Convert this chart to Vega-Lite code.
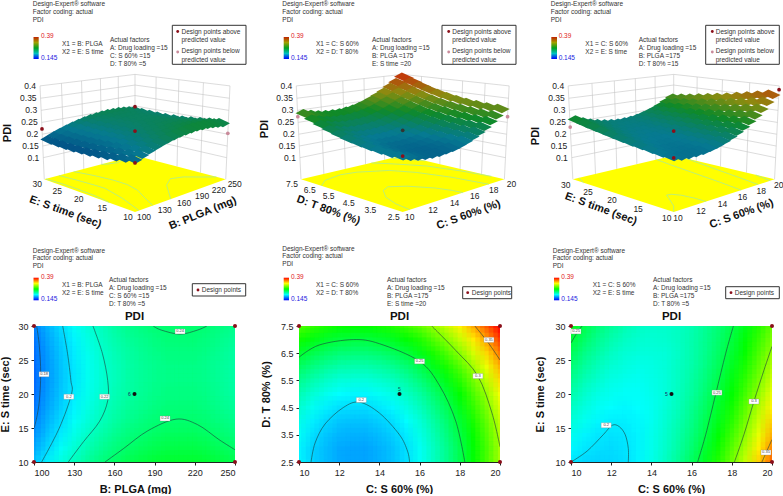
{"$schema":"https://vega.github.io/schema/vega-lite/v6.json","padding":{"left":-2,"top":0,"right":0,"bottom":0},"background":"white","resolve":{"scale":{"color":"independent"}},"config":{"font":"Liberation Sans","view":{"stroke":null},"axis":{"grid":false,"domainColor":"#222","tickColor":"#222","tickSize":3,"labelFontSize":9,"labelColor":"#222","labelPadding":3,"titleFontSize":11,"titleFontWeight":"bold","titleColor":"#111","titleBaseline":"middle"}},
"datasets":{
"g1":[{"k":"w","u":0,"v":1,"h":0,"U":0,"V":1,"H":1},{"k":"w","u":0.2,"v":1,"h":0,"U":0.2,"V":1,"H":1},{"k":"w","u":0.4,"v":1,"h":0,"U":0.4,"V":1,"H":1},{"k":"w","u":0.6,"v":1,"h":0,"U":0.6,"V":1,"H":1},{"k":"w","u":0.8,"v":1,"h":0,"U":0.8,"V":1,"H":1},{"k":"w","u":1,"v":1,"h":0,"U":1,"V":1,"H":1},{"k":"w","u":1,"v":0,"h":0,"U":1,"V":0,"H":1},{"k":"w","u":1,"v":0.25,"h":0,"U":1,"V":0.25,"H":1},{"k":"w","u":1,"v":0.5,"h":0,"U":1,"V":0.5,"H":1},{"k":"w","u":1,"v":0.75,"h":0,"U":1,"V":0.75,"H":1},
{"k":"w","u":0,"v":1,"h":0.24,"U":1,"V":1,"H":0.24},{"k":"w","u":0,"v":1,"h":0.367,"U":1,"V":1,"H":0.367},{"k":"w","u":0,"v":1,"h":0.494,"U":1,"V":1,"H":0.494},{"k":"w","u":0,"v":1,"h":0.62,"U":1,"V":1,"H":0.62},{"k":"w","u":0,"v":1,"h":0.747,"U":1,"V":1,"H":0.747},{"k":"w","u":0,"v":1,"h":0.873,"U":1,"V":1,"H":0.873},{"k":"w","u":0,"v":1,"h":1,"U":1,"V":1,"H":1},
{"k":"w","u":1,"v":0,"h":0.24,"U":1,"V":1,"H":0.24},{"k":"w","u":1,"v":0,"h":0.367,"U":1,"V":1,"H":0.367},{"k":"w","u":1,"v":0,"h":0.494,"U":1,"V":1,"H":0.494},{"k":"w","u":1,"v":0,"h":0.62,"U":1,"V":1,"H":0.62},{"k":"w","u":1,"v":0,"h":0.747,"U":1,"V":1,"H":0.747},{"k":"w","u":1,"v":0,"h":0.873,"U":1,"V":1,"H":0.873},{"k":"w","u":1,"v":0,"h":1,"U":1,"V":1,"H":1},
{"k":"f","u":0,"v":1,"h":0,"U":0,"V":1,"H":0},{"k":"f","u":1,"v":1,"h":0,"U":0,"V":0,"H":0},{"k":"f","u":1,"v":0,"h":0,"U":1,"V":0,"H":0},
{"k":"z","t":"0.4","u":0,"v":1,"h":1},{"k":"z","t":"0.35","u":0,"v":1,"h":0.873},{"k":"z","t":"0.3","u":0,"v":1,"h":0.747},{"k":"z","t":"0.25","u":0,"v":1,"h":0.62},{"k":"z","t":"0.2","u":0,"v":1,"h":0.494},{"k":"z","t":"0.15","u":0,"v":1,"h":0.367},{"k":"z","t":"0.1","u":0,"v":1,"h":0.24},
{"k":"r","t":"100","u":0,"v":0,"h":0},{"k":"r","t":"130","u":0.2,"v":0,"h":0},{"k":"r","t":"160","u":0.4,"v":0,"h":0},{"k":"r","t":"190","u":0.6,"v":0,"h":0},{"k":"r","t":"220","u":0.8,"v":0,"h":0},{"k":"r","t":"250","u":1,"v":0,"h":0},
{"k":"l","t":"10","u":0,"v":0,"h":0},{"k":"l","t":"15","u":0,"v":0.25,"h":0},{"k":"l","t":"20","u":0,"v":0.5,"h":0},{"k":"l","t":"25","u":0,"v":0.75,"h":0},{"k":"l","t":"30","u":0,"v":1,"h":0},
{"k":"L","t":"E: S time (sec)","u":0,"v":0.5,"h":0},{"k":"R","t":"B: PLGA (mg)","u":0.5,"v":0,"h":0},
{"k":"a","u":1,"v":1,"h":0.611},{"k":"a","u":0,"v":1,"h":0.55},{"k":"a","u":0.5,"v":0.5,"h":0.528},{"k":"a","u":0,"v":0,"h":0.459},{"k":"b","u":1,"v":0,"h":0.504}],
"g2":[{"k":"w","u":0,"v":1,"h":0,"U":0,"V":1,"H":1},{"k":"w","u":0.2,"v":1,"h":0,"U":0.2,"V":1,"H":1},{"k":"w","u":0.4,"v":1,"h":0,"U":0.4,"V":1,"H":1},{"k":"w","u":0.6,"v":1,"h":0,"U":0.6,"V":1,"H":1},{"k":"w","u":0.8,"v":1,"h":0,"U":0.8,"V":1,"H":1},{"k":"w","u":1,"v":1,"h":0,"U":1,"V":1,"H":1},{"k":"w","u":1,"v":0,"h":0,"U":1,"V":0,"H":1},{"k":"w","u":1,"v":0.2,"h":0,"U":1,"V":0.2,"H":1},{"k":"w","u":1,"v":0.4,"h":0,"U":1,"V":0.4,"H":1},{"k":"w","u":1,"v":0.6,"h":0,"U":1,"V":0.6,"H":1},{"k":"w","u":1,"v":0.8,"h":0,"U":1,"V":0.8,"H":1},
{"k":"w","u":0,"v":1,"h":0.24,"U":1,"V":1,"H":0.24},{"k":"w","u":0,"v":1,"h":0.367,"U":1,"V":1,"H":0.367},{"k":"w","u":0,"v":1,"h":0.494,"U":1,"V":1,"H":0.494},{"k":"w","u":0,"v":1,"h":0.62,"U":1,"V":1,"H":0.62},{"k":"w","u":0,"v":1,"h":0.747,"U":1,"V":1,"H":0.747},{"k":"w","u":0,"v":1,"h":0.873,"U":1,"V":1,"H":0.873},{"k":"w","u":0,"v":1,"h":1,"U":1,"V":1,"H":1},
{"k":"w","u":1,"v":0,"h":0.24,"U":1,"V":1,"H":0.24},{"k":"w","u":1,"v":0,"h":0.367,"U":1,"V":1,"H":0.367},{"k":"w","u":1,"v":0,"h":0.494,"U":1,"V":1,"H":0.494},{"k":"w","u":1,"v":0,"h":0.62,"U":1,"V":1,"H":0.62},{"k":"w","u":1,"v":0,"h":0.747,"U":1,"V":1,"H":0.747},{"k":"w","u":1,"v":0,"h":0.873,"U":1,"V":1,"H":0.873},{"k":"w","u":1,"v":0,"h":1,"U":1,"V":1,"H":1},
{"k":"f","u":0,"v":1,"h":0,"U":0,"V":1,"H":0},{"k":"f","u":1,"v":1,"h":0,"U":0,"V":0,"H":0},{"k":"f","u":1,"v":0,"h":0,"U":1,"V":0,"H":0},
{"k":"z","t":"0.4","u":0,"v":1,"h":1},{"k":"z","t":"0.35","u":0,"v":1,"h":0.873},{"k":"z","t":"0.3","u":0,"v":1,"h":0.747},{"k":"z","t":"0.25","u":0,"v":1,"h":0.62},{"k":"z","t":"0.2","u":0,"v":1,"h":0.494},{"k":"z","t":"0.15","u":0,"v":1,"h":0.367},{"k":"z","t":"0.1","u":0,"v":1,"h":0.24},
{"k":"r","t":"10","u":0,"v":0,"h":0},{"k":"r","t":"12","u":0.2,"v":0,"h":0},{"k":"r","t":"14","u":0.4,"v":0,"h":0},{"k":"r","t":"16","u":0.6,"v":0,"h":0},{"k":"r","t":"18","u":0.8,"v":0,"h":0},{"k":"r","t":"20","u":1,"v":0,"h":0},
{"k":"l","t":"2.5","u":0,"v":0,"h":0},{"k":"l","t":"3.5","u":0,"v":0.2,"h":0},{"k":"l","t":"4.5","u":0,"v":0.4,"h":0},{"k":"l","t":"5.5","u":0,"v":0.6,"h":0},{"k":"l","t":"6.5","u":0,"v":0.8,"h":0},{"k":"l","t":"7.5","u":0,"v":1,"h":0},
{"k":"L","t":"D: T 80% (%)","u":0,"v":0.5,"h":0},{"k":"R","t":"C: S 60% (%)","u":0.5,"v":0,"h":0},
{"k":"b","u":0,"v":1,"h":0.68},{"k":"b","u":1,"v":0,"h":0.68},{"k":"n","u":0.5,"v":0.5,"h":0.536},{"k":"a","u":0,"v":0,"h":0.522}],
"g3":[{"k":"w","u":0,"v":1,"h":0,"U":0,"V":1,"H":1},{"k":"w","u":0.2,"v":1,"h":0,"U":0.2,"V":1,"H":1},{"k":"w","u":0.4,"v":1,"h":0,"U":0.4,"V":1,"H":1},{"k":"w","u":0.6,"v":1,"h":0,"U":0.6,"V":1,"H":1},{"k":"w","u":0.8,"v":1,"h":0,"U":0.8,"V":1,"H":1},{"k":"w","u":1,"v":1,"h":0,"U":1,"V":1,"H":1},{"k":"w","u":1,"v":0,"h":0,"U":1,"V":0,"H":1},{"k":"w","u":1,"v":0.25,"h":0,"U":1,"V":0.25,"H":1},{"k":"w","u":1,"v":0.5,"h":0,"U":1,"V":0.5,"H":1},{"k":"w","u":1,"v":0.75,"h":0,"U":1,"V":0.75,"H":1},
{"k":"w","u":0,"v":1,"h":0.24,"U":1,"V":1,"H":0.24},{"k":"w","u":0,"v":1,"h":0.367,"U":1,"V":1,"H":0.367},{"k":"w","u":0,"v":1,"h":0.494,"U":1,"V":1,"H":0.494},{"k":"w","u":0,"v":1,"h":0.62,"U":1,"V":1,"H":0.62},{"k":"w","u":0,"v":1,"h":0.747,"U":1,"V":1,"H":0.747},{"k":"w","u":0,"v":1,"h":0.873,"U":1,"V":1,"H":0.873},{"k":"w","u":0,"v":1,"h":1,"U":1,"V":1,"H":1},
{"k":"w","u":1,"v":0,"h":0.24,"U":1,"V":1,"H":0.24},{"k":"w","u":1,"v":0,"h":0.367,"U":1,"V":1,"H":0.367},{"k":"w","u":1,"v":0,"h":0.494,"U":1,"V":1,"H":0.494},{"k":"w","u":1,"v":0,"h":0.62,"U":1,"V":1,"H":0.62},{"k":"w","u":1,"v":0,"h":0.747,"U":1,"V":1,"H":0.747},{"k":"w","u":1,"v":0,"h":0.873,"U":1,"V":1,"H":0.873},{"k":"w","u":1,"v":0,"h":1,"U":1,"V":1,"H":1},
{"k":"f","u":0,"v":1,"h":0,"U":0,"V":1,"H":0},{"k":"f","u":1,"v":1,"h":0,"U":0,"V":0,"H":0},{"k":"f","u":1,"v":0,"h":0,"U":1,"V":0,"H":0},
{"k":"z","t":"0.4","u":0,"v":1,"h":1},{"k":"z","t":"0.35","u":0,"v":1,"h":0.873},{"k":"z","t":"0.3","u":0,"v":1,"h":0.747},{"k":"z","t":"0.25","u":0,"v":1,"h":0.62},{"k":"z","t":"0.2","u":0,"v":1,"h":0.494},{"k":"z","t":"0.15","u":0,"v":1,"h":0.367},{"k":"z","t":"0.1","u":0,"v":1,"h":0.24},
{"k":"r","t":"10","u":0,"v":0,"h":0},{"k":"r","t":"12","u":0.2,"v":0,"h":0},{"k":"r","t":"14","u":0.4,"v":0,"h":0},{"k":"r","t":"16","u":0.6,"v":0,"h":0},{"k":"r","t":"18","u":0.8,"v":0,"h":0},{"k":"r","t":"20","u":1,"v":0,"h":0},
{"k":"l","t":"10","u":0,"v":0,"h":0},{"k":"l","t":"15","u":0,"v":0.25,"h":0},{"k":"l","t":"20","u":0,"v":0.5,"h":0},{"k":"l","t":"25","u":0,"v":0.75,"h":0},{"k":"l","t":"30","u":0,"v":1,"h":0},
{"k":"L","t":"E: S time (sec)","u":0,"v":0.5,"h":0},{"k":"R","t":"C: S 60% (%)","u":0.5,"v":0,"h":0},
{"k":"b","u":0,"v":1,"h":0.571},{"k":"a","u":1,"v":0,"h":0.961},{"k":"a","u":0.5,"v":0.5,"h":0.528},{"k":"a","u":0,"v":0,"h":0.505}],
"h1":[{"k":"t","t":"Design-Expert® software","px":32.7,"py":2.7},{"k":"t","t":"Factor coding: actual","px":32.7,"py":10.7},{"k":"t","t":"PDI","px":32.7,"py":19},{"k":"t","t":"X1 = B: PLGA","px":62,"py":42.7},{"k":"t","t":"X2 = E: S time","px":62,"py":51},{"k":"t","t":"Actual factors","px":110,"py":38.5},{"k":"t","t":"A: Drug loading =15","px":110,"py":46.5},{"k":"t","t":"C: S 60% =15","px":110,"py":54.5},{"k":"t","t":"D: T 80% =5","px":110,"py":62.5},{"k":"t","t":"Design points above","px":181.5,"py":30.5},{"k":"t","t":"predicted value","px":181.5,"py":38.5},{"k":"t","t":"Design points below","px":181.5,"py":50},{"k":"t","t":"predicted value","px":181.5,"py":58.5},{"k":"B","px":172.3,"py":24.3,"qx":246,"qy":63.3},{"k":"C","px":33.5,"py":36,"qx":38.7,"qy":58},{"k":"m","t":"0.39","px":41,"py":35},{"k":"s","t":"0.145","px":41,"py":57},{"k":"a","px":177.7,"py":30.5},{"k":"b","px":177.7,"py":51},{"k":"P","t":"PDI","px":8,"py":132}],
"h2":[{"k":"t","t":"Design-Expert® software","px":21.3,"py":2.7},{"k":"t","t":"Factor coding: actual","px":21.3,"py":10.7},{"k":"t","t":"PDI","px":21.3,"py":19},{"k":"t","t":"X1 = C: S 60%","px":55,"py":42.7},{"k":"t","t":"X2 = D: T 80%","px":55,"py":51},{"k":"t","t":"Actual factors","px":111,"py":38.5},{"k":"t","t":"A: Drug loading =15","px":111,"py":46.5},{"k":"t","t":"B: PLGA  =175","px":111,"py":54.5},{"k":"t","t":"E: S time =20","px":111,"py":62.5},{"k":"t","t":"Design points above","px":191.3,"py":30.5},{"k":"t","t":"predicted value","px":191.3,"py":38.5},{"k":"t","t":"Design points below","px":191.3,"py":50},{"k":"t","t":"predicted value","px":191.3,"py":58.5},{"k":"B","px":181,"py":24.3,"qx":255,"qy":63.3},{"k":"C","px":22.7,"py":36,"qx":28,"qy":58},{"k":"m","t":"0.39","px":30,"py":35},{"k":"s","t":"0.145","px":30,"py":57},{"k":"a","px":187.7,"py":30.5},{"k":"b","px":187.7,"py":51},{"k":"P","t":"PDI","px":3.5,"py":128}],
"h3":[{"k":"t","t":"Design-Expert® software","px":28.7,"py":2.7},{"k":"t","t":"Factor coding: actual","px":28.7,"py":10.7},{"k":"t","t":"PDI","px":28.7,"py":19},{"k":"t","t":"X1 = C: S 60%","px":63.3,"py":42.7},{"k":"t","t":"X2 = E: S time","px":63.3,"py":51},{"k":"t","t":"Actual factors","px":116.7,"py":38.5},{"k":"t","t":"A: Drug loading =15","px":116.7,"py":46.5},{"k":"t","t":"B: PLGA  =175","px":116.7,"py":54.5},{"k":"t","t":"D: T 80% =15","px":116.7,"py":62.5},{"k":"t","t":"Design points above","px":193.7,"py":30.5},{"k":"t","t":"predicted value","px":193.7,"py":38.5},{"k":"t","t":"Design points below","px":193.7,"py":50},{"k":"t","t":"predicted value","px":193.7,"py":58.5},{"k":"B","px":183.7,"py":24.3,"qx":257.3,"qy":63.3},{"k":"C","px":29.3,"py":36,"qx":35,"qy":58},{"k":"m","t":"0.39","px":36.7,"py":35},{"k":"s","t":"0.145","px":36.7,"py":57},{"k":"a","px":190.3,"py":30.5},{"k":"b","px":190.3,"py":51},{"k":"P","t":"PDI","px":14,"py":135}],
"h4":[{"k":"t","t":"Design-Expert® software","px":32.7,"py":3.5},{"k":"t","t":"Factor coding: actual","px":32.7,"py":10.7},{"k":"t","t":"PDI","px":32.7,"py":19},{"k":"t","t":"X1 = B: PLGA","px":62,"py":38},{"k":"t","t":"X2 = E: S time","px":62,"py":46.3},{"k":"t","t":"Actual factors","px":109,"py":33.3},{"k":"t","t":"A: Drug loading =15","px":109,"py":41.3},{"k":"t","t":"C: S 60% =15","px":109,"py":49},{"k":"t","t":"D: T 80% =5","px":109,"py":57.3},{"k":"t","t":"Design points","px":201.7,"py":43},{"k":"B","px":192.3,"py":36.7,"qx":245.7,"qy":49},{"k":"C","px":33.5,"py":30.7,"qx":38.7,"qy":53.3},{"k":"m","t":"0.39","px":41,"py":29.7},{"k":"s","t":"0.145","px":41,"py":52.3},{"k":"a","px":198,"py":43}],
"h5":[{"k":"t","t":"Design-Expert® software","px":21.3,"py":1.5},{"k":"t","t":"Factor coding: actual","px":21.3,"py":9},{"k":"t","t":"PDI","px":21.3,"py":16.7},{"k":"t","t":"X1 = C: S 60%","px":55,"py":38},{"k":"t","t":"X2 = D: T 80%","px":55,"py":45.7},{"k":"t","t":"Actual factors","px":126,"py":33.3},{"k":"t","t":"A: Drug loading =15","px":126,"py":41.3},{"k":"t","t":"B: PLGA  =175","px":126,"py":49.3},{"k":"t","t":"E: S time =20","px":126,"py":57.3},{"k":"t","t":"Design points","px":210.7,"py":45.7},{"k":"B","px":201.7,"py":39.7,"qx":250.7,"qy":51.7},{"k":"C","px":22.7,"py":30.7,"qx":28,"qy":53.3},{"k":"m","t":"0.39","px":30,"py":29.7},{"k":"s","t":"0.145","px":30,"py":52.3},{"k":"a","px":206.7,"py":45.7}],
"h6":[{"k":"t","t":"Design-Expert® software","px":30.7,"py":3.5},{"k":"t","t":"Factor coding: actual","px":30.7,"py":10.7},{"k":"t","t":"PDI","px":30.7,"py":19},{"k":"t","t":"X1 = C: S 60%","px":70.7,"py":38},{"k":"t","t":"X2 = E: S time","px":70.7,"py":46.3},{"k":"t","t":"Actual factors","px":131,"py":33.3},{"k":"t","t":"A: Drug loading =15","px":131,"py":41.3},{"k":"t","t":"B: PLGA  =175","px":131,"py":49.3},{"k":"t","t":"D: T 80% =5","px":131,"py":57.3},{"k":"t","t":"Design points","px":212.7,"py":45.7},{"k":"B","px":203.7,"py":39.7,"qx":257.3,"qy":51.7},{"k":"C","px":32,"py":30.7,"qx":37.3,"qy":53.3},{"k":"m","t":"0.39","px":39.3,"py":29.7},{"k":"s","t":"0.145","px":39.3,"py":52.3},{"k":"a","px":209,"py":45.7}],
"c1":[{"g":1,"x":102,"y":30},{"g":1,"x":104,"y":27},{"g":1,"x":105,"y":23},{"g":1,"x":104,"y":19},{"g":1,"x":102,"y":16.5},{"g":1,"x":100,"y":15},{"g":2,"x":121.4,"y":30},{"g":2,"x":125,"y":26},{"g":2,"x":127.5,"y":22},{"g":2,"x":128,"y":20},{"g":2,"x":118.9,"y":15},{"g":2,"x":105.7,"y":10},{"g":3,"x":144,"y":30},{"g":3,"x":151,"y":26},{"g":3,"x":155,"y":22},{"g":3,"x":155,"y":19},{"g":3,"x":149,"y":16},{"g":3,"x":137,"y":13},{"g":3,"x":125.6,"y":10},{"g":4,"x":189,"y":30},{"g":4,"x":195,"y":29.4},{"g":4,"x":209,"y":28.8},{"g":4,"x":222,"y":29.4},{"g":4,"x":229,"y":30},{"g":5,"x":153,"y":10},{"g":5,"x":167,"y":12},{"g":5,"x":185,"y":14.6},{"g":5,"x":206,"y":16.3},{"g":5,"x":222,"y":15.5},{"g":5,"x":238,"y":13.3},{"g":5,"x":250,"y":11.8}],
"c2":[{"g":1,"x":10.6,"y":2.5},{"g":1,"x":10.8,"y":3.2},{"g":1,"x":11.3,"y":3.9},{"g":1,"x":12.2,"y":4.5},{"g":1,"x":13,"y":4.7},{"g":1,"x":14,"y":4.3},{"g":1,"x":15,"y":3.5},{"g":1,"x":15.4,"y":2.9},{"g":1,"x":15.5,"y":2.5},{"g":2,"x":10,"y":6.35},{"g":2,"x":11,"y":6.8},{"g":2,"x":12.7,"y":7},{"g":2,"x":14,"y":6.85},{"g":2,"x":16,"y":6.2},{"g":2,"x":17,"y":5.3},{"g":2,"x":17.8,"y":4},{"g":2,"x":18.25,"y":2.5},{"g":3,"x":16.6,"y":7.5},{"g":3,"x":17.8,"y":6.6},{"g":3,"x":18.9,"y":5.66},{"g":3,"x":19.6,"y":4.3},{"g":3,"x":20,"y":3.06},{"g":4,"x":18.75,"y":7.5},{"g":4,"x":19.4,"y":6.9},{"g":4,"x":20,"y":6.25}],
"c3":[{"g":1,"x":10,"y":10},{"g":1,"x":10.8,"y":11.6},{"g":1,"x":11.6,"y":14},{"g":1,"x":12.05,"y":15.4},{"g":1,"x":12.4,"y":15.2},{"g":1,"x":12.7,"y":14},{"g":1,"x":12.85,"y":12},{"g":1,"x":12.85,"y":10},{"g":2,"x":16.3,"y":10},{"g":2,"x":16.7,"y":14},{"g":2,"x":17.2,"y":20},{"g":2,"x":17.7,"y":26},{"g":2,"x":18.08,"y":30},{"g":3,"x":18.13,"y":10},{"g":3,"x":18.6,"y":14},{"g":3,"x":19.1,"y":18.9},{"g":3,"x":19.6,"y":23.5},{"g":3,"x":20,"y":27},{"g":4,"x":19.5,"y":10},{"g":4,"x":19.8,"y":12},{"g":4,"x":20,"y":13.3},{"g":5,"x":10,"y":27.5},{"g":5,"x":10.3,"y":29},{"g":5,"x":10.55,"y":30}],
"l1":[{"x":107.5,"y":22.9,"t":"0.18"},{"x":126,"y":19.6,"t":"0.2"},{"x":152.7,"y":19.6,"t":"0.22"},{"x":209,"y":29.2,"t":"0.24"},{"x":197.8,"y":16.4,"t":"0.24"}],
"l2":[{"x":13.1,"y":4.78,"t":"0.2"},{"x":16,"y":6.2,"t":"0.25"},{"x":18.9,"y":5.66,"t":"0.3"},{"x":19.45,"y":6.99,"t":"0.35"}],
"l3":[{"x":11.75,"y":15.4,"t":"0.2"},{"x":17.26,"y":20.2,"t":"0.25"},{"x":19.1,"y":18.9,"t":"0.3"},{"x":19.7,"y":11.4,"t":"0.35"},{"x":10.25,"y":29.2,"t":"0.25"}],
"d1":[{"x":100,"y":10},{"x":100,"y":30},{"x":250,"y":10},{"x":250,"y":30}],
"d2":[{"x":10,"y":2.5},{"x":10,"y":7.5},{"x":20,"y":2.5},{"x":20,"y":7.5}],
"d3":[{"x":10,"y":10},{"x":10,"y":30},{"x":20,"y":10},{"x":20,"y":30}],
"p1":[
{"x":100,"y":10,"z":0.192},{"x":100,"y":12,"z":0.186},{"x":100,"y":14,"z":0.181},{"x":100,"y":16,"z":0.177},{"x":100,"y":18,"z":0.174},{"x":100,"y":20,"z":0.172},{"x":100,"y":22,"z":0.171},{"x":100,"y":24,"z":0.171},{"x":100,"y":26,"z":0.172},{"x":100,"y":28,"z":0.174},{"x":100,"y":30,"z":0.177},
{"x":110,"y":10,"z":0.203},{"x":110,"y":12,"z":0.197},{"x":110,"y":14,"z":0.192},{"x":110,"y":16,"z":0.188},{"x":110,"y":18,"z":0.185},{"x":110,"y":20,"z":0.183},{"x":110,"y":22,"z":0.182},{"x":110,"y":24,"z":0.182},{"x":110,"y":26,"z":0.183},{"x":110,"y":28,"z":0.185},{"x":110,"y":30,"z":0.188},
{"x":120,"y":10,"z":0.213},{"x":120,"y":12,"z":0.207},{"x":120,"y":14,"z":0.202},{"x":120,"y":16,"z":0.198},{"x":120,"y":18,"z":0.195},{"x":120,"y":20,"z":0.193},{"x":120,"y":22,"z":0.192},{"x":120,"y":24,"z":0.192},{"x":120,"y":26,"z":0.193},{"x":120,"y":28,"z":0.195},{"x":120,"y":30,"z":0.198},
{"x":130,"y":10,"z":0.222},{"x":130,"y":12,"z":0.216},{"x":130,"y":14,"z":0.211},{"x":130,"y":16,"z":0.207},{"x":130,"y":18,"z":0.204},{"x":130,"y":20,"z":0.202},{"x":130,"y":22,"z":0.201},{"x":130,"y":24,"z":0.201},{"x":130,"y":26,"z":0.202},{"x":130,"y":28,"z":0.204},{"x":130,"y":30,"z":0.207},
{"x":140,"y":10,"z":0.23},{"x":140,"y":12,"z":0.224},{"x":140,"y":14,"z":0.219},{"x":140,"y":16,"z":0.215},{"x":140,"y":18,"z":0.212},{"x":140,"y":20,"z":0.21},{"x":140,"y":22,"z":0.209},{"x":140,"y":24,"z":0.209},{"x":140,"y":26,"z":0.21},{"x":140,"y":28,"z":0.212},{"x":140,"y":30,"z":0.215},
{"x":150,"y":10,"z":0.237},{"x":150,"y":12,"z":0.231},{"x":150,"y":14,"z":0.226},{"x":150,"y":16,"z":0.222},{"x":150,"y":18,"z":0.219},{"x":150,"y":20,"z":0.217},{"x":150,"y":22,"z":0.216},{"x":150,"y":24,"z":0.216},{"x":150,"y":26,"z":0.217},{"x":150,"y":28,"z":0.219},{"x":150,"y":30,"z":0.222},
{"x":160,"y":10,"z":0.243},{"x":160,"y":12,"z":0.237},{"x":160,"y":14,"z":0.232},{"x":160,"y":16,"z":0.228},{"x":160,"y":18,"z":0.225},{"x":160,"y":20,"z":0.223},{"x":160,"y":22,"z":0.222},{"x":160,"y":24,"z":0.222},{"x":160,"y":26,"z":0.223},{"x":160,"y":28,"z":0.225},{"x":160,"y":30,"z":0.228},
{"x":170,"y":10,"z":0.248},{"x":170,"y":12,"z":0.242},{"x":170,"y":14,"z":0.237},{"x":170,"y":16,"z":0.233},{"x":170,"y":18,"z":0.23},{"x":170,"y":20,"z":0.228},{"x":170,"y":22,"z":0.227},{"x":170,"y":24,"z":0.227},{"x":170,"y":26,"z":0.228},{"x":170,"y":28,"z":0.23},{"x":170,"y":30,"z":0.233},
{"x":180,"y":10,"z":0.251},{"x":180,"y":12,"z":0.245},{"x":180,"y":14,"z":0.24},{"x":180,"y":16,"z":0.236},{"x":180,"y":18,"z":0.233},{"x":180,"y":20,"z":0.231},{"x":180,"y":22,"z":0.23},{"x":180,"y":24,"z":0.23},{"x":180,"y":26,"z":0.231},{"x":180,"y":28,"z":0.233},{"x":180,"y":30,"z":0.236},
{"x":190,"y":10,"z":0.254},{"x":190,"y":12,"z":0.248},{"x":190,"y":14,"z":0.243},{"x":190,"y":16,"z":0.239},{"x":190,"y":18,"z":0.236},{"x":190,"y":20,"z":0.234},{"x":190,"y":22,"z":0.233},{"x":190,"y":24,"z":0.233},{"x":190,"y":26,"z":0.234},{"x":190,"y":28,"z":0.236},{"x":190,"y":30,"z":0.239},
{"x":200,"y":10,"z":0.256},{"x":200,"y":12,"z":0.25},{"x":200,"y":14,"z":0.245},{"x":200,"y":16,"z":0.241},{"x":200,"y":18,"z":0.238},{"x":200,"y":20,"z":0.236},{"x":200,"y":22,"z":0.235},{"x":200,"y":24,"z":0.235},{"x":200,"y":26,"z":0.236},{"x":200,"y":28,"z":0.238},{"x":200,"y":30,"z":0.241},
{"x":210,"y":10,"z":0.256},{"x":210,"y":12,"z":0.25},{"x":210,"y":14,"z":0.245},{"x":210,"y":16,"z":0.241},{"x":210,"y":18,"z":0.238},{"x":210,"y":20,"z":0.236},{"x":210,"y":22,"z":0.235},{"x":210,"y":24,"z":0.235},{"x":210,"y":26,"z":0.236},{"x":210,"y":28,"z":0.238},{"x":210,"y":30,"z":0.241},
{"x":220,"y":10,"z":0.256},{"x":220,"y":12,"z":0.25},{"x":220,"y":14,"z":0.245},{"x":220,"y":16,"z":0.241},{"x":220,"y":18,"z":0.238},{"x":220,"y":20,"z":0.236},{"x":220,"y":22,"z":0.235},{"x":220,"y":24,"z":0.235},{"x":220,"y":26,"z":0.236},{"x":220,"y":28,"z":0.238},{"x":220,"y":30,"z":0.241},
{"x":230,"y":10,"z":0.254},{"x":230,"y":12,"z":0.248},{"x":230,"y":14,"z":0.243},{"x":230,"y":16,"z":0.239},{"x":230,"y":18,"z":0.236},{"x":230,"y":20,"z":0.234},{"x":230,"y":22,"z":0.233},{"x":230,"y":24,"z":0.233},{"x":230,"y":26,"z":0.234},{"x":230,"y":28,"z":0.236},{"x":230,"y":30,"z":0.239},
{"x":240,"y":10,"z":0.251},{"x":240,"y":12,"z":0.245},{"x":240,"y":14,"z":0.24},{"x":240,"y":16,"z":0.236},{"x":240,"y":18,"z":0.233},{"x":240,"y":20,"z":0.231},{"x":240,"y":22,"z":0.23},{"x":240,"y":24,"z":0.23},{"x":240,"y":26,"z":0.231},{"x":240,"y":28,"z":0.233},{"x":240,"y":30,"z":0.236},
{"x":250,"y":10,"z":0.248},{"x":250,"y":12,"z":0.242},{"x":250,"y":14,"z":0.237},{"x":250,"y":16,"z":0.233},{"x":250,"y":18,"z":0.23},{"x":250,"y":20,"z":0.228},{"x":250,"y":22,"z":0.227},{"x":250,"y":24,"z":0.227},{"x":250,"y":26,"z":0.228},{"x":250,"y":28,"z":0.23},{"x":250,"y":30,"z":0.233}],
"p2":[
{"x":10,"y":2.5,"z":0.204},{"x":10,"y":3,"z":0.204},{"x":10,"y":3.5,"z":0.207},{"x":10,"y":4,"z":0.211},{"x":10,"y":4.5,"z":0.217},{"x":10,"y":5,"z":0.224},{"x":10,"y":5.5,"z":0.233},{"x":10,"y":6,"z":0.244},{"x":10,"y":6.5,"z":0.257},{"x":10,"y":7,"z":0.271},{"x":10,"y":7.5,"z":0.287},
{"x":10.67,"y":2.5,"z":0.196},{"x":10.67,"y":3,"z":0.196},{"x":10.67,"y":3.5,"z":0.199},{"x":10.67,"y":4,"z":0.203},{"x":10.67,"y":4.5,"z":0.209},{"x":10.67,"y":5,"z":0.216},{"x":10.67,"y":5.5,"z":0.225},{"x":10.67,"y":6,"z":0.236},{"x":10.67,"y":6.5,"z":0.249},{"x":10.67,"y":7,"z":0.263},{"x":10.67,"y":7.5,"z":0.279},
{"x":11.33,"y":2.5,"z":0.19},{"x":11.33,"y":3,"z":0.19},{"x":11.33,"y":3.5,"z":0.193},{"x":11.33,"y":4,"z":0.197},{"x":11.33,"y":4.5,"z":0.203},{"x":11.33,"y":5,"z":0.21},{"x":11.33,"y":5.5,"z":0.219},{"x":11.33,"y":6,"z":0.23},{"x":11.33,"y":6.5,"z":0.243},{"x":11.33,"y":7,"z":0.257},{"x":11.33,"y":7.5,"z":0.273},
{"x":12,"y":2.5,"z":0.186},{"x":12,"y":3,"z":0.186},{"x":12,"y":3.5,"z":0.189},{"x":12,"y":4,"z":0.193},{"x":12,"y":4.5,"z":0.199},{"x":12,"y":5,"z":0.206},{"x":12,"y":5.5,"z":0.215},{"x":12,"y":6,"z":0.226},{"x":12,"y":6.5,"z":0.239},{"x":12,"y":7,"z":0.253},{"x":12,"y":7.5,"z":0.269},
{"x":12.67,"y":2.5,"z":0.185},{"x":12.67,"y":3,"z":0.185},{"x":12.67,"y":3.5,"z":0.188},{"x":12.67,"y":4,"z":0.192},{"x":12.67,"y":4.5,"z":0.198},{"x":12.67,"y":5,"z":0.205},{"x":12.67,"y":5.5,"z":0.214},{"x":12.67,"y":6,"z":0.225},{"x":12.67,"y":6.5,"z":0.238},{"x":12.67,"y":7,"z":0.252},{"x":12.67,"y":7.5,"z":0.268},
{"x":13.33,"y":2.5,"z":0.185},{"x":13.33,"y":3,"z":0.185},{"x":13.33,"y":3.5,"z":0.188},{"x":13.33,"y":4,"z":0.192},{"x":13.33,"y":4.5,"z":0.198},{"x":13.33,"y":5,"z":0.205},{"x":13.33,"y":5.5,"z":0.214},{"x":13.33,"y":6,"z":0.225},{"x":13.33,"y":6.5,"z":0.238},{"x":13.33,"y":7,"z":0.252},{"x":13.33,"y":7.5,"z":0.268},
{"x":14,"y":2.5,"z":0.188},{"x":14,"y":3,"z":0.188},{"x":14,"y":3.5,"z":0.191},{"x":14,"y":4,"z":0.195},{"x":14,"y":4.5,"z":0.201},{"x":14,"y":5,"z":0.208},{"x":14,"y":5.5,"z":0.217},{"x":14,"y":6,"z":0.228},{"x":14,"y":6.5,"z":0.241},{"x":14,"y":7,"z":0.255},{"x":14,"y":7.5,"z":0.271},
{"x":14.67,"y":2.5,"z":0.192},{"x":14.67,"y":3,"z":0.192},{"x":14.67,"y":3.5,"z":0.195},{"x":14.67,"y":4,"z":0.199},{"x":14.67,"y":4.5,"z":0.205},{"x":14.67,"y":5,"z":0.212},{"x":14.67,"y":5.5,"z":0.221},{"x":14.67,"y":6,"z":0.232},{"x":14.67,"y":6.5,"z":0.245},{"x":14.67,"y":7,"z":0.259},{"x":14.67,"y":7.5,"z":0.275},
{"x":15.33,"y":2.5,"z":0.199},{"x":15.33,"y":3,"z":0.199},{"x":15.33,"y":3.5,"z":0.202},{"x":15.33,"y":4,"z":0.206},{"x":15.33,"y":4.5,"z":0.212},{"x":15.33,"y":5,"z":0.219},{"x":15.33,"y":5.5,"z":0.228},{"x":15.33,"y":6,"z":0.239},{"x":15.33,"y":6.5,"z":0.252},{"x":15.33,"y":7,"z":0.266},{"x":15.33,"y":7.5,"z":0.282},
{"x":16,"y":2.5,"z":0.208},{"x":16,"y":3,"z":0.208},{"x":16,"y":3.5,"z":0.211},{"x":16,"y":4,"z":0.215},{"x":16,"y":4.5,"z":0.221},{"x":16,"y":5,"z":0.228},{"x":16,"y":5.5,"z":0.237},{"x":16,"y":6,"z":0.248},{"x":16,"y":6.5,"z":0.261},{"x":16,"y":7,"z":0.275},{"x":16,"y":7.5,"z":0.291},
{"x":16.67,"y":2.5,"z":0.22},{"x":16.67,"y":3,"z":0.22},{"x":16.67,"y":3.5,"z":0.223},{"x":16.67,"y":4,"z":0.227},{"x":16.67,"y":4.5,"z":0.233},{"x":16.67,"y":5,"z":0.24},{"x":16.67,"y":5.5,"z":0.249},{"x":16.67,"y":6,"z":0.26},{"x":16.67,"y":6.5,"z":0.273},{"x":16.67,"y":7,"z":0.287},{"x":16.67,"y":7.5,"z":0.303},
{"x":17.33,"y":2.5,"z":0.233},{"x":17.33,"y":3,"z":0.233},{"x":17.33,"y":3.5,"z":0.236},{"x":17.33,"y":4,"z":0.24},{"x":17.33,"y":4.5,"z":0.246},{"x":17.33,"y":5,"z":0.253},{"x":17.33,"y":5.5,"z":0.262},{"x":17.33,"y":6,"z":0.273},{"x":17.33,"y":6.5,"z":0.286},{"x":17.33,"y":7,"z":0.3},{"x":17.33,"y":7.5,"z":0.316},
{"x":18,"y":2.5,"z":0.248},{"x":18,"y":3,"z":0.248},{"x":18,"y":3.5,"z":0.251},{"x":18,"y":4,"z":0.255},{"x":18,"y":4.5,"z":0.261},{"x":18,"y":5,"z":0.268},{"x":18,"y":5.5,"z":0.277},{"x":18,"y":6,"z":0.288},{"x":18,"y":6.5,"z":0.301},{"x":18,"y":7,"z":0.315},{"x":18,"y":7.5,"z":0.331},
{"x":18.67,"y":2.5,"z":0.266},{"x":18.67,"y":3,"z":0.266},{"x":18.67,"y":3.5,"z":0.269},{"x":18.67,"y":4,"z":0.273},{"x":18.67,"y":4.5,"z":0.279},{"x":18.67,"y":5,"z":0.286},{"x":18.67,"y":5.5,"z":0.295},{"x":18.67,"y":6,"z":0.306},{"x":18.67,"y":6.5,"z":0.319},{"x":18.67,"y":7,"z":0.333},{"x":18.67,"y":7.5,"z":0.349},
{"x":19.33,"y":2.5,"z":0.285},{"x":19.33,"y":3,"z":0.285},{"x":19.33,"y":3.5,"z":0.288},{"x":19.33,"y":4,"z":0.292},{"x":19.33,"y":4.5,"z":0.298},{"x":19.33,"y":5,"z":0.305},{"x":19.33,"y":5.5,"z":0.314},{"x":19.33,"y":6,"z":0.325},{"x":19.33,"y":6.5,"z":0.338},{"x":19.33,"y":7,"z":0.352},{"x":19.33,"y":7.5,"z":0.368},
{"x":20,"y":2.5,"z":0.307},{"x":20,"y":3,"z":0.307},{"x":20,"y":3.5,"z":0.31},{"x":20,"y":4,"z":0.314},{"x":20,"y":4.5,"z":0.32},{"x":20,"y":5,"z":0.327},{"x":20,"y":5.5,"z":0.336},{"x":20,"y":6,"z":0.347},{"x":20,"y":6.5,"z":0.36},{"x":20,"y":7,"z":0.374},{"x":20,"y":7.5,"z":0.39}],
"p3":[
{"x":10,"y":10,"z":0.201},{"x":10,"y":12,"z":0.205},{"x":10,"y":14,"z":0.21},{"x":10,"y":16,"z":0.215},{"x":10,"y":18,"z":0.22},{"x":10,"y":20,"z":0.226},{"x":10,"y":22,"z":0.232},{"x":10,"y":24,"z":0.239},{"x":10,"y":26,"z":0.246},{"x":10,"y":28,"z":0.253},{"x":10,"y":30,"z":0.261},
{"x":10.67,"y":10,"z":0.197},{"x":10.67,"y":12,"z":0.201},{"x":10.67,"y":14,"z":0.204},{"x":10.67,"y":16,"z":0.209},{"x":10.67,"y":18,"z":0.213},{"x":10.67,"y":20,"z":0.218},{"x":10.67,"y":22,"z":0.223},{"x":10.67,"y":24,"z":0.229},{"x":10.67,"y":26,"z":0.235},{"x":10.67,"y":28,"z":0.242},{"x":10.67,"y":30,"z":0.248},
{"x":11.33,"y":10,"z":0.196},{"x":11.33,"y":12,"z":0.199},{"x":11.33,"y":14,"z":0.201},{"x":11.33,"y":16,"z":0.205},{"x":11.33,"y":18,"z":0.208},{"x":11.33,"y":20,"z":0.212},{"x":11.33,"y":22,"z":0.217},{"x":11.33,"y":24,"z":0.222},{"x":11.33,"y":26,"z":0.227},{"x":11.33,"y":28,"z":0.232},{"x":11.33,"y":30,"z":0.238},
{"x":12,"y":10,"z":0.197},{"x":12,"y":12,"z":0.198},{"x":12,"y":14,"z":0.2},{"x":12,"y":16,"z":0.203},{"x":12,"y":18,"z":0.206},{"x":12,"y":20,"z":0.209},{"x":12,"y":22,"z":0.212},{"x":12,"y":24,"z":0.216},{"x":12,"y":26,"z":0.22},{"x":12,"y":28,"z":0.225},{"x":12,"y":30,"z":0.23},
{"x":12.67,"y":10,"z":0.199},{"x":12.67,"y":12,"z":0.2},{"x":12.67,"y":14,"z":0.201},{"x":12.67,"y":16,"z":0.203},{"x":12.67,"y":18,"z":0.205},{"x":12.67,"y":20,"z":0.207},{"x":12.67,"y":22,"z":0.21},{"x":12.67,"y":24,"z":0.213},{"x":12.67,"y":26,"z":0.216},{"x":12.67,"y":28,"z":0.22},{"x":12.67,"y":30,"z":0.224},
{"x":13.33,"y":10,"z":0.204},{"x":13.33,"y":12,"z":0.204},{"x":13.33,"y":14,"z":0.204},{"x":13.33,"y":16,"z":0.205},{"x":13.33,"y":18,"z":0.206},{"x":13.33,"y":20,"z":0.207},{"x":13.33,"y":22,"z":0.209},{"x":13.33,"y":24,"z":0.211},{"x":13.33,"y":26,"z":0.214},{"x":13.33,"y":28,"z":0.217},{"x":13.33,"y":30,"z":0.22},
{"x":14,"y":10,"z":0.211},{"x":14,"y":12,"z":0.21},{"x":14,"y":14,"z":0.21},{"x":14,"y":16,"z":0.209},{"x":14,"y":18,"z":0.209},{"x":14,"y":20,"z":0.21},{"x":14,"y":22,"z":0.211},{"x":14,"y":24,"z":0.212},{"x":14,"y":26,"z":0.214},{"x":14,"y":28,"z":0.216},{"x":14,"y":30,"z":0.218},
{"x":14.67,"y":10,"z":0.22},{"x":14.67,"y":12,"z":0.218},{"x":14.67,"y":14,"z":0.217},{"x":14.67,"y":16,"z":0.216},{"x":14.67,"y":18,"z":0.215},{"x":14.67,"y":20,"z":0.214},{"x":14.67,"y":22,"z":0.214},{"x":14.67,"y":24,"z":0.215},{"x":14.67,"y":26,"z":0.215},{"x":14.67,"y":28,"z":0.217},{"x":14.67,"y":30,"z":0.218},
{"x":15.33,"y":10,"z":0.231},{"x":15.33,"y":12,"z":0.228},{"x":15.33,"y":14,"z":0.226},{"x":15.33,"y":16,"z":0.224},{"x":15.33,"y":18,"z":0.222},{"x":15.33,"y":20,"z":0.221},{"x":15.33,"y":22,"z":0.22},{"x":15.33,"y":24,"z":0.22},{"x":15.33,"y":26,"z":0.219},{"x":15.33,"y":28,"z":0.22},{"x":15.33,"y":30,"z":0.22},
{"x":16,"y":10,"z":0.244},{"x":16,"y":12,"z":0.24},{"x":16,"y":14,"z":0.237},{"x":16,"y":16,"z":0.234},{"x":16,"y":18,"z":0.232},{"x":16,"y":20,"z":0.229},{"x":16,"y":22,"z":0.228},{"x":16,"y":24,"z":0.226},{"x":16,"y":26,"z":0.225},{"x":16,"y":28,"z":0.225},{"x":16,"y":30,"z":0.224},
{"x":16.67,"y":10,"z":0.259},{"x":16.67,"y":12,"z":0.255},{"x":16.67,"y":14,"z":0.25},{"x":16.67,"y":16,"z":0.247},{"x":16.67,"y":18,"z":0.243},{"x":16.67,"y":20,"z":0.24},{"x":16.67,"y":22,"z":0.237},{"x":16.67,"y":24,"z":0.235},{"x":16.67,"y":26,"z":0.233},{"x":16.67,"y":28,"z":0.232},{"x":16.67,"y":30,"z":0.231},
{"x":17.33,"y":10,"z":0.276},{"x":17.33,"y":12,"z":0.271},{"x":17.33,"y":14,"z":0.266},{"x":17.33,"y":16,"z":0.261},{"x":17.33,"y":18,"z":0.257},{"x":17.33,"y":20,"z":0.253},{"x":17.33,"y":22,"z":0.249},{"x":17.33,"y":24,"z":0.246},{"x":17.33,"y":26,"z":0.243},{"x":17.33,"y":28,"z":0.241},{"x":17.33,"y":30,"z":0.239},
{"x":18,"y":10,"z":0.295},{"x":18,"y":12,"z":0.289},{"x":18,"y":14,"z":0.283},{"x":18,"y":16,"z":0.277},{"x":18,"y":18,"z":0.272},{"x":18,"y":20,"z":0.267},{"x":18,"y":22,"z":0.263},{"x":18,"y":24,"z":0.259},{"x":18,"y":26,"z":0.255},{"x":18,"y":28,"z":0.252},{"x":18,"y":30,"z":0.249},
{"x":18.67,"y":10,"z":0.316},{"x":18.67,"y":12,"z":0.309},{"x":18.67,"y":14,"z":0.302},{"x":18.67,"y":16,"z":0.296},{"x":18.67,"y":18,"z":0.29},{"x":18.67,"y":20,"z":0.284},{"x":18.67,"y":22,"z":0.279},{"x":18.67,"y":24,"z":0.274},{"x":18.67,"y":26,"z":0.269},{"x":18.67,"y":28,"z":0.265},{"x":18.67,"y":30,"z":0.261},
{"x":19.33,"y":10,"z":0.34},{"x":19.33,"y":12,"z":0.332},{"x":19.33,"y":14,"z":0.324},{"x":19.33,"y":16,"z":0.317},{"x":19.33,"y":18,"z":0.31},{"x":19.33,"y":20,"z":0.303},{"x":19.33,"y":22,"z":0.297},{"x":19.33,"y":24,"z":0.291},{"x":19.33,"y":26,"z":0.286},{"x":19.33,"y":28,"z":0.281},{"x":19.33,"y":30,"z":0.276},
{"x":20,"y":10,"z":0.365},{"x":20,"y":12,"z":0.356},{"x":20,"y":14,"z":0.347},{"x":20,"y":16,"z":0.339},{"x":20,"y":18,"z":0.331},{"x":20,"y":20,"z":0.324},{"x":20,"y":22,"z":0.317},{"x":20,"y":24,"z":0.31},{"x":20,"y":26,"z":0.304},{"x":20,"y":28,"z":0.298},{"x":20,"y":30,"z":0.292}]
},
"vconcat":[
{"resolve":{"scale":{"color":"independent"}},"hconcat":[
{"width":261,"height":244,"data":{"name":"g1"},"transform":[{"calculate":"1+.187*(datum.u+datum.v)-.053*datum.h","as":"w"},{"calculate":"135+107.7*(datum.u-datum.v)/datum.w","as":"px"},{"calculate":"211-(38.8*(datum.u+datum.v)+104.2*datum.h)/datum.w","as":"py"},{"calculate":"1+.187*(datum.U+datum.V)-.053*datum.H","as":"W"},{"calculate":"135+107.7*(datum.U-datum.V)/datum.W","as":"qx"},{"calculate":"211-(38.8*(datum.U+datum.V)+104.2*datum.H)/datum.W","as":"qy"}],
"encoding":{"x":{"field":"px","type":"quantitative","scale":{"domain":[0,261]},"axis":null},"y":{"field":"py","type":"quantitative","scale":{"domain":[244,0]},"axis":null}},
"layer":[
{"transform":[{"filter":"datum.k=='w'"}],"mark":{"type":"rule","color":"#c4c4c4","strokeWidth":0.6},"encoding":{"x2":{"field":"qx"},"y2":{"field":"qy"}}},
{"transform":[{"filter":"datum.k=='f'"}],"mark":{"type":"area","color":"#ffff00"},"encoding":{"y2":{"field":"qy"}}},
{"data":{"name":"c1"},"transform":[{"calculate":"(datum.x-100)/150","as":"u"},{"calculate":"(datum.y-10)/20","as":"v"},{"calculate":"1+.187*(datum.u+datum.v)","as":"w"},{"calculate":"135+107.7*(datum.u-datum.v)/datum.w","as":"px"},{"calculate":"211-38.8*(datum.u+datum.v)/datum.w","as":"py"}],"mark":{"type":"line","color":"#9fe8a8","strokeWidth":0.7},"encoding":{"detail":{"field":"g"},"order":{"value":null}}},
{"data":{"name":"p1"},"transform":[{"calculate":"1/32+(datum.x-100)/150*15/16","as":"u"},{"calculate":"1/22+(datum.y-10)/20*10/11","as":"v"},{"calculate":"(datum.z-.005)/.395","as":"h"},{"calculate":"1+.187*(datum.u+datum.v)-.053*datum.h","as":"w"},{"calculate":"135+107.7*(datum.u-datum.v)/datum.w","as":"px"},{"calculate":"211-(38.8*(datum.u+datum.v)+104.2*datum.h)/datum.w","as":"py"},{"calculate":"datum.u+datum.v","as":"d"}],"mark":{"type":"point","filled":true,"opacity":1,"size":400,"shape":"M-.2,-.47L.9,.06L.2,.47L-.9,-.06Z"},"encoding":{"order":{"field":"d","sort":"descending"},"color":{"field":"z","type":"quantitative","legend":null,"scale":{"domain":[0.145,0.206,0.2675,0.329,0.39],"range":["#003a80","#067a92","#0f8a28","#8c8c10","#c03c0a"],"interpolate":"rgb"}}}},
{"transform":[{"filter":"datum.k=='a'"}],"mark":{"type":"point","filled":true,"size":14,"opacity":1,"color":"#8b0f1a"}},
{"transform":[{"filter":"datum.k=='b'"}],"mark":{"type":"point","filled":true,"size":14,"opacity":1,"color":"#c98a9a"}},
{"transform":[{"filter":"datum.k=='z'"}],"mark":{"type":"text","align":"right","baseline":"middle","dx":-4,"fontSize":8.5,"color":"#222"},"encoding":{"text":{"field":"t"}}},
{"transform":[{"filter":"datum.k=='r'"}],"mark":{"type":"text","align":"center","baseline":"middle","dx":9,"dy":5,"fontSize":8.5,"color":"#222"},"encoding":{"text":{"field":"t"}}},
{"transform":[{"filter":"datum.k=='l'"}],"mark":{"type":"text","align":"center","baseline":"middle","dx":-7,"dy":5,"fontSize":8.5,"color":"#222"},"encoding":{"text":{"field":"t"}}},
{"transform":[{"filter":"datum.k=='L'"}],"mark":{"type":"text","align":"center","baseline":"middle","dx":-13,"dy":23.7,"angle":20,"fontSize":11,"fontWeight":"bold","color":"#111"},"encoding":{"text":{"field":"t"}}},
{"transform":[{"filter":"datum.k=='R'"}],"mark":{"type":"text","align":"center","baseline":"middle","dx":10,"dy":24.7,"angle":-22,"fontSize":11,"fontWeight":"bold","color":"#111"},"encoding":{"text":{"field":"t"}}},
{"data":{"name":"h1"},"transform":[{"filter":"datum.k=='B'"}],"mark":{"type":"rect","fill":"white","stroke":"#333","strokeWidth":1},"encoding":{"x2":{"field":"qx"},"y2":{"field":"qy"}}},
{"data":{"name":"h1"},"transform":[{"filter":"datum.k=='C'"}],"mark":{"type":"rect","fill":{"gradient":"linear","x1":0,"y1":1,"x2":0,"y2":0,"stops":[{"offset":0,"color":"#0000ff"},{"offset":0.25,"color":"#00c0c0"},{"offset":0.5,"color":"#00a020"},{"offset":0.75,"color":"#a0a000"},{"offset":1,"color":"#c02000"}]}},"encoding":{"x2":{"field":"qx"},"y2":{"field":"qy"}}},
{"data":{"name":"h1"},"transform":[{"filter":"datum.k=='t'"}],"mark":{"type":"text","align":"left","baseline":"middle","fontSize":6.5,"color":"#333"},"encoding":{"text":{"field":"t"}}},
{"data":{"name":"h1"},"transform":[{"filter":"datum.k=='m'"}],"mark":{"type":"text","align":"left","baseline":"middle","fontSize":6.5,"color":"#e02020"},"encoding":{"text":{"field":"t"}}},
{"data":{"name":"h1"},"transform":[{"filter":"datum.k=='s'"}],"mark":{"type":"text","align":"left","baseline":"middle","fontSize":6.5,"color":"#2020e0"},"encoding":{"text":{"field":"t"}}},
{"data":{"name":"h1"},"transform":[{"filter":"datum.k=='a'"}],"mark":{"type":"point","filled":true,"size":8,"opacity":1,"color":"#8b0f1a"}},
{"data":{"name":"h1"},"transform":[{"filter":"datum.k=='b'"}],"mark":{"type":"point","filled":true,"size":8,"opacity":1,"color":"#c98a9a"}},
{"data":{"name":"h1"},"transform":[{"filter":"datum.k=='P'"}],"mark":{"type":"text","align":"center","baseline":"middle","angle":270,"fontSize":11,"fontWeight":"bold","color":"#111"},"encoding":{"text":{"field":"t"}}}
]},
{"width":261,"height":244,"data":{"name":"g2"},"transform":[{"calculate":"1+.187*(datum.u+datum.v)-.053*datum.h","as":"w"},{"calculate":"141.7+120.7*(datum.u-datum.v)/datum.w","as":"px"},{"calculate":"211-(38.8*(datum.u+datum.v)+104.2*datum.h)/datum.w","as":"py"},{"calculate":"1+.187*(datum.U+datum.V)-.053*datum.H","as":"W"},{"calculate":"141.7+120.7*(datum.U-datum.V)/datum.W","as":"qx"},{"calculate":"211-(38.8*(datum.U+datum.V)+104.2*datum.H)/datum.W","as":"qy"}],
"encoding":{"x":{"field":"px","type":"quantitative","scale":{"domain":[0,261]},"axis":null},"y":{"field":"py","type":"quantitative","scale":{"domain":[244,0]},"axis":null}},
"layer":[
{"transform":[{"filter":"datum.k=='w'"}],"mark":{"type":"rule","color":"#c4c4c4","strokeWidth":0.6},"encoding":{"x2":{"field":"qx"},"y2":{"field":"qy"}}},
{"transform":[{"filter":"datum.k=='f'"}],"mark":{"type":"area","color":"#ffff00"},"encoding":{"y2":{"field":"qy"}}},
{"data":{"name":"c2"},"transform":[{"calculate":"(datum.x-10)/10","as":"u"},{"calculate":"(datum.y-2.5)/5","as":"v"},{"calculate":"1+.187*(datum.u+datum.v)","as":"w"},{"calculate":"141.7+120.7*(datum.u-datum.v)/datum.w","as":"px"},{"calculate":"211-38.8*(datum.u+datum.v)/datum.w","as":"py"}],"mark":{"type":"line","color":"#9fe8a8","strokeWidth":0.7},"encoding":{"detail":{"field":"g"},"order":{"value":null}}},
{"data":{"name":"p2"},"transform":[{"calculate":"1/32+(datum.x-10)/10*15/16","as":"u"},{"calculate":"1/22+(datum.y-2.5)/5*10/11","as":"v"},{"calculate":"(datum.z-.005)/.395","as":"h"},{"calculate":"1+.187*(datum.u+datum.v)-.053*datum.h","as":"w"},{"calculate":"141.7+120.7*(datum.u-datum.v)/datum.w","as":"px"},{"calculate":"211-(38.8*(datum.u+datum.v)+104.2*datum.h)/datum.w","as":"py"},{"calculate":"datum.u+datum.v","as":"d"}],"mark":{"type":"point","filled":true,"opacity":1,"size":400,"shape":"M-.22,-.47L1,.06L.22,.47L-1,-.06Z"},"encoding":{"order":{"field":"d","sort":"descending"},"color":{"field":"z","type":"quantitative","legend":null,"scale":{"domain":[0.145,0.206,0.2675,0.329,0.39],"range":["#003a80","#067a92","#0f8a28","#8c8c10","#c03c0a"],"interpolate":"rgb"}}}},
{"transform":[{"filter":"datum.k=='a'"}],"mark":{"type":"point","filled":true,"size":14,"opacity":1,"color":"#8b0f1a"}},
{"transform":[{"filter":"datum.k=='b'"}],"mark":{"type":"point","filled":true,"size":14,"opacity":1,"color":"#c98a9a"}},
{"transform":[{"filter":"datum.k=='n'"}],"mark":{"type":"point","filled":true,"size":14,"opacity":1,"color":"#333"}},
{"transform":[{"filter":"datum.k=='z'"}],"mark":{"type":"text","align":"right","baseline":"middle","dx":-4,"fontSize":8.5,"color":"#222"},"encoding":{"text":{"field":"t"}}},
{"transform":[{"filter":"datum.k=='r'"}],"mark":{"type":"text","align":"center","baseline":"middle","dx":7,"dy":5,"fontSize":8.5,"color":"#222"},"encoding":{"text":{"field":"t"}}},
{"transform":[{"filter":"datum.k=='l'"}],"mark":{"type":"text","align":"center","baseline":"middle","dx":-9,"dy":5,"fontSize":8.5,"color":"#222"},"encoding":{"text":{"field":"t"}}},
{"transform":[{"filter":"datum.k=='L'"}],"mark":{"type":"text","align":"center","baseline":"middle","dx":-12.5,"dy":21.7,"angle":20,"fontSize":11,"fontWeight":"bold","color":"#111"},"encoding":{"text":{"field":"t"}}},
{"transform":[{"filter":"datum.k=='R'"}],"mark":{"type":"text","align":"center","baseline":"middle","dx":3,"dy":23,"angle":-20,"fontSize":11,"fontWeight":"bold","color":"#111"},"encoding":{"text":{"field":"t"}}},
{"data":{"name":"h2"},"transform":[{"filter":"datum.k=='B'"}],"mark":{"type":"rect","fill":"white","stroke":"#333","strokeWidth":1},"encoding":{"x2":{"field":"qx"},"y2":{"field":"qy"}}},
{"data":{"name":"h2"},"transform":[{"filter":"datum.k=='C'"}],"mark":{"type":"rect","fill":{"gradient":"linear","x1":0,"y1":1,"x2":0,"y2":0,"stops":[{"offset":0,"color":"#0000ff"},{"offset":0.25,"color":"#00c0c0"},{"offset":0.5,"color":"#00a020"},{"offset":0.75,"color":"#a0a000"},{"offset":1,"color":"#c02000"}]}},"encoding":{"x2":{"field":"qx"},"y2":{"field":"qy"}}},
{"data":{"name":"h2"},"transform":[{"filter":"datum.k=='t'"}],"mark":{"type":"text","align":"left","baseline":"middle","fontSize":6.5,"color":"#333"},"encoding":{"text":{"field":"t"}}},
{"data":{"name":"h2"},"transform":[{"filter":"datum.k=='m'"}],"mark":{"type":"text","align":"left","baseline":"middle","fontSize":6.5,"color":"#e02020"},"encoding":{"text":{"field":"t"}}},
{"data":{"name":"h2"},"transform":[{"filter":"datum.k=='s'"}],"mark":{"type":"text","align":"left","baseline":"middle","fontSize":6.5,"color":"#2020e0"},"encoding":{"text":{"field":"t"}}},
{"data":{"name":"h2"},"transform":[{"filter":"datum.k=='a'"}],"mark":{"type":"point","filled":true,"size":8,"opacity":1,"color":"#8b0f1a"}},
{"data":{"name":"h2"},"transform":[{"filter":"datum.k=='b'"}],"mark":{"type":"point","filled":true,"size":8,"opacity":1,"color":"#c98a9a"}},
{"data":{"name":"h2"},"transform":[{"filter":"datum.k=='P'"}],"mark":{"type":"text","align":"center","baseline":"middle","angle":270,"fontSize":11,"fontWeight":"bold","color":"#111"},"encoding":{"text":{"field":"t"}}}
]},
{"width":261,"height":244,"data":{"name":"g3"},"transform":[{"calculate":"1+.187*(datum.u+datum.v)-.053*datum.h","as":"w"},{"calculate":"151.7+119.7*(datum.u-datum.v)/datum.w","as":"px"},{"calculate":"211-(38.8*(datum.u+datum.v)+104.2*datum.h)/datum.w","as":"py"},{"calculate":"1+.187*(datum.U+datum.V)-.053*datum.H","as":"W"},{"calculate":"151.7+119.7*(datum.U-datum.V)/datum.W","as":"qx"},{"calculate":"211-(38.8*(datum.U+datum.V)+104.2*datum.H)/datum.W","as":"qy"}],
"encoding":{"x":{"field":"px","type":"quantitative","scale":{"domain":[0,261]},"axis":null},"y":{"field":"py","type":"quantitative","scale":{"domain":[244,0]},"axis":null}},
"layer":[
{"transform":[{"filter":"datum.k=='w'"}],"mark":{"type":"rule","color":"#c4c4c4","strokeWidth":0.6},"encoding":{"x2":{"field":"qx"},"y2":{"field":"qy"}}},
{"transform":[{"filter":"datum.k=='f'"}],"mark":{"type":"area","color":"#ffff00"},"encoding":{"y2":{"field":"qy"}}},
{"data":{"name":"c3"},"transform":[{"calculate":"(datum.x-10)/10","as":"u"},{"calculate":"(datum.y-10)/20","as":"v"},{"calculate":"1+.187*(datum.u+datum.v)","as":"w"},{"calculate":"151.7+119.7*(datum.u-datum.v)/datum.w","as":"px"},{"calculate":"211-38.8*(datum.u+datum.v)/datum.w","as":"py"}],"mark":{"type":"line","color":"#9fe8a8","strokeWidth":0.7},"encoding":{"detail":{"field":"g"},"order":{"value":null}}},
{"data":{"name":"p3"},"transform":[{"calculate":"1/32+(datum.x-10)/10*15/16","as":"u"},{"calculate":"1/22+(datum.y-10)/20*10/11","as":"v"},{"calculate":"(datum.z-.005)/.395","as":"h"},{"calculate":"1+.187*(datum.u+datum.v)-.053*datum.h","as":"w"},{"calculate":"151.7+119.7*(datum.u-datum.v)/datum.w","as":"px"},{"calculate":"211-(38.8*(datum.u+datum.v)+104.2*datum.h)/datum.w","as":"py"},{"calculate":"datum.u+datum.v","as":"d"}],"mark":{"type":"point","filled":true,"opacity":1,"size":400,"shape":"M-.22,-.47L1,.06L.22,.47L-1,-.06Z"},"encoding":{"order":{"field":"d","sort":"descending"},"color":{"field":"z","type":"quantitative","legend":null,"scale":{"domain":[0.145,0.206,0.2675,0.329,0.39],"range":["#003a80","#067a92","#0f8a28","#8c8c10","#c03c0a"],"interpolate":"rgb"}}}},
{"transform":[{"filter":"datum.k=='a'"}],"mark":{"type":"point","filled":true,"size":14,"opacity":1,"color":"#8b0f1a"}},
{"transform":[{"filter":"datum.k=='b'"}],"mark":{"type":"point","filled":true,"size":14,"opacity":1,"color":"#c98a9a"}},
{"transform":[{"filter":"datum.k=='z'"}],"mark":{"type":"text","align":"right","baseline":"middle","dx":-4,"fontSize":8.5,"color":"#222"},"encoding":{"text":{"field":"t"}}},
{"transform":[{"filter":"datum.k=='r'"}],"mark":{"type":"text","align":"center","baseline":"middle","dx":4.2,"dy":6,"fontSize":8.5,"color":"#222"},"encoding":{"text":{"field":"t"}}},
{"transform":[{"filter":"datum.k=='l'"}],"mark":{"type":"text","align":"center","baseline":"middle","dx":-7,"dy":6,"fontSize":8.5,"color":"#222"},"encoding":{"text":{"field":"t"}}},
{"transform":[{"filter":"datum.k=='L'"}],"mark":{"type":"text","align":"center","baseline":"middle","dx":-12,"dy":20,"angle":20,"fontSize":11,"fontWeight":"bold","color":"#111"},"encoding":{"text":{"field":"t"}}},
{"transform":[{"filter":"datum.k=='R'"}],"mark":{"type":"text","align":"center","baseline":"middle","dx":5.6,"dy":23,"angle":-20,"fontSize":11,"fontWeight":"bold","color":"#111"},"encoding":{"text":{"field":"t"}}},
{"data":{"name":"h3"},"transform":[{"filter":"datum.k=='B'"}],"mark":{"type":"rect","fill":"white","stroke":"#333","strokeWidth":1},"encoding":{"x2":{"field":"qx"},"y2":{"field":"qy"}}},
{"data":{"name":"h3"},"transform":[{"filter":"datum.k=='C'"}],"mark":{"type":"rect","fill":{"gradient":"linear","x1":0,"y1":1,"x2":0,"y2":0,"stops":[{"offset":0,"color":"#0000ff"},{"offset":0.25,"color":"#00c0c0"},{"offset":0.5,"color":"#00a020"},{"offset":0.75,"color":"#a0a000"},{"offset":1,"color":"#c02000"}]}},"encoding":{"x2":{"field":"qx"},"y2":{"field":"qy"}}},
{"data":{"name":"h3"},"transform":[{"filter":"datum.k=='t'"}],"mark":{"type":"text","align":"left","baseline":"middle","fontSize":6.5,"color":"#333"},"encoding":{"text":{"field":"t"}}},
{"data":{"name":"h3"},"transform":[{"filter":"datum.k=='m'"}],"mark":{"type":"text","align":"left","baseline":"middle","fontSize":6.5,"color":"#e02020"},"encoding":{"text":{"field":"t"}}},
{"data":{"name":"h3"},"transform":[{"filter":"datum.k=='s'"}],"mark":{"type":"text","align":"left","baseline":"middle","fontSize":6.5,"color":"#2020e0"},"encoding":{"text":{"field":"t"}}},
{"data":{"name":"h3"},"transform":[{"filter":"datum.k=='a'"}],"mark":{"type":"point","filled":true,"size":8,"opacity":1,"color":"#8b0f1a"}},
{"data":{"name":"h3"},"transform":[{"filter":"datum.k=='b'"}],"mark":{"type":"point","filled":true,"size":8,"opacity":1,"color":"#c98a9a"}},
{"data":{"name":"h3"},"transform":[{"filter":"datum.k=='P'"}],"mark":{"type":"text","align":"center","baseline":"middle","angle":270,"fontSize":11,"fontWeight":"bold","color":"#111"},"encoding":{"text":{"field":"t"}}}
]}
],"spacing":0,"bounds":"flush"},
{"hconcat":[
{"width":261,"height":63,"data":{"name":"h4"},"encoding":{"x":{"field":"px","type":"quantitative","scale":{"domain":[0,261]},"axis":null},"y":{"field":"py","type":"quantitative","scale":{"domain":[63,0]},"axis":null}},"layer":[
{"transform":[{"filter":"datum.k=='B'"}],"mark":{"type":"rect","fill":"white","stroke":"#333","strokeWidth":1},"encoding":{"x2":{"field":"qx"},"y2":{"field":"qy"}}},
{"transform":[{"filter":"datum.k=='C'"}],"mark":{"type":"rect","fill":{"gradient":"linear","x1":0,"y1":1,"x2":0,"y2":0,"stops":[{"offset":0,"color":"#0000ff"},{"offset":0.25,"color":"#00ffff"},{"offset":0.5,"color":"#00ff00"},{"offset":0.75,"color":"#ffff00"},{"offset":1,"color":"#ff0000"}]}},"encoding":{"x2":{"field":"qx"},"y2":{"field":"qy"}}},
{"transform":[{"filter":"datum.k=='t'"}],"mark":{"type":"text","align":"left","baseline":"middle","fontSize":6.5,"color":"#333"},"encoding":{"text":{"field":"t"}}},
{"transform":[{"filter":"datum.k=='m'"}],"mark":{"type":"text","align":"left","baseline":"middle","fontSize":6.5,"color":"#e02020"},"encoding":{"text":{"field":"t"}}},
{"transform":[{"filter":"datum.k=='s'"}],"mark":{"type":"text","align":"left","baseline":"middle","fontSize":6.5,"color":"#2020e0"},"encoding":{"text":{"field":"t"}}},
{"transform":[{"filter":"datum.k=='a'"}],"mark":{"type":"point","filled":true,"size":8,"opacity":1,"color":"#8b0f1a"}}
]},
{"width":261,"height":63,"data":{"name":"h5"},"encoding":{"x":{"field":"px","type":"quantitative","scale":{"domain":[0,261]},"axis":null},"y":{"field":"py","type":"quantitative","scale":{"domain":[63,0]},"axis":null}},"layer":[
{"transform":[{"filter":"datum.k=='B'"}],"mark":{"type":"rect","fill":"white","stroke":"#333","strokeWidth":1},"encoding":{"x2":{"field":"qx"},"y2":{"field":"qy"}}},
{"transform":[{"filter":"datum.k=='C'"}],"mark":{"type":"rect","fill":{"gradient":"linear","x1":0,"y1":1,"x2":0,"y2":0,"stops":[{"offset":0,"color":"#0000ff"},{"offset":0.25,"color":"#00ffff"},{"offset":0.5,"color":"#00ff00"},{"offset":0.75,"color":"#ffff00"},{"offset":1,"color":"#ff0000"}]}},"encoding":{"x2":{"field":"qx"},"y2":{"field":"qy"}}},
{"transform":[{"filter":"datum.k=='t'"}],"mark":{"type":"text","align":"left","baseline":"middle","fontSize":6.5,"color":"#333"},"encoding":{"text":{"field":"t"}}},
{"transform":[{"filter":"datum.k=='m'"}],"mark":{"type":"text","align":"left","baseline":"middle","fontSize":6.5,"color":"#e02020"},"encoding":{"text":{"field":"t"}}},
{"transform":[{"filter":"datum.k=='s'"}],"mark":{"type":"text","align":"left","baseline":"middle","fontSize":6.5,"color":"#2020e0"},"encoding":{"text":{"field":"t"}}},
{"transform":[{"filter":"datum.k=='a'"}],"mark":{"type":"point","filled":true,"size":8,"opacity":1,"color":"#8b0f1a"}}
]},
{"width":261,"height":63,"data":{"name":"h6"},"encoding":{"x":{"field":"px","type":"quantitative","scale":{"domain":[0,261]},"axis":null},"y":{"field":"py","type":"quantitative","scale":{"domain":[63,0]},"axis":null}},"layer":[
{"transform":[{"filter":"datum.k=='B'"}],"mark":{"type":"rect","fill":"white","stroke":"#333","strokeWidth":1},"encoding":{"x2":{"field":"qx"},"y2":{"field":"qy"}}},
{"transform":[{"filter":"datum.k=='C'"}],"mark":{"type":"rect","fill":{"gradient":"linear","x1":0,"y1":1,"x2":0,"y2":0,"stops":[{"offset":0,"color":"#0000ff"},{"offset":0.25,"color":"#00ffff"},{"offset":0.5,"color":"#00ff00"},{"offset":0.75,"color":"#ffff00"},{"offset":1,"color":"#ff0000"}]}},"encoding":{"x2":{"field":"qx"},"y2":{"field":"qy"}}},
{"transform":[{"filter":"datum.k=='t'"}],"mark":{"type":"text","align":"left","baseline":"middle","fontSize":6.5,"color":"#333"},"encoding":{"text":{"field":"t"}}},
{"transform":[{"filter":"datum.k=='m'"}],"mark":{"type":"text","align":"left","baseline":"middle","fontSize":6.5,"color":"#e02020"},"encoding":{"text":{"field":"t"}}},
{"transform":[{"filter":"datum.k=='s'"}],"mark":{"type":"text","align":"left","baseline":"middle","fontSize":6.5,"color":"#2020e0"},"encoding":{"text":{"field":"t"}}},
{"transform":[{"filter":"datum.k=='a'"}],"mark":{"type":"point","filled":true,"size":8,"opacity":1,"color":"#8b0f1a"}}
]}
],"spacing":0,"bounds":"flush"},
{"resolve":{"scale":{"color":"independent"}},"hconcat":[
{"width":34,"height":136,"data":{"values":[{"a":1}]},"mark":{"type":"text"},"encoding":{"text":{"value":""}}},
{"width":201,"height":136,"encoding":{"x":{"field":"x","type":"quantitative","scale":{"domain":[100,250]},"axis":{"title":"B: PLGA (mg)","values":[100,130,160,190,220,250],"titleX":101,"titleY":27}},"y":{"field":"y","type":"quantitative","scale":{"domain":[10,30]},"axis":{"title":"E: S time (sec)","values":[10,15,20,25,30],"titleX":-26,"titleY":68,"titleBaseline":"alphabetic"}}},"layer":[
{"data":{"name":"p1"},"encoding":{"x":{"field":"xx","type":"quantitative","scale":{"domain":[100,250]},"axis":{"title":"B: PLGA (mg)","values":[100,130,160,190,220,250],"titleX":101,"titleY":27}},"y":{"field":"yy","type":"quantitative","scale":{"domain":[10,30]},"axis":{"title":"E: S time (sec)","values":[10,15,20,25,30],"titleX":-26,"titleY":68,"titleBaseline":"alphabetic"}},"color":{"field":"z","type":"quantitative","legend":null,"scale":{"domain":[0.145,0.206,0.2675,0.329,0.39],"range":["#0000ff","#00ffff","#00ff00","#ffff00","#ff0000"],"interpolate":"rgb"}}},"layer":[
{"transform":[{"calculate":"datum.x-3.33","as":"xx"},{"calculate":"datum.y-0.667","as":"yy"}],"mark":{"type":"rect","width":13.9,"height":14.1,"clip":true,"opacity":1}},
{"transform":[{"calculate":"datum.x-3.33","as":"xx"},{"calculate":"datum.y","as":"yy"}],"mark":{"type":"rect","width":13.9,"height":14.1,"clip":true,"opacity":0.5}},
{"transform":[{"calculate":"datum.x-3.33","as":"xx"},{"calculate":"datum.y+0.667","as":"yy"}],"mark":{"type":"rect","width":13.9,"height":14.1,"clip":true,"opacity":0.333}},
{"transform":[{"calculate":"datum.x","as":"xx"},{"calculate":"datum.y-0.667","as":"yy"}],"mark":{"type":"rect","width":13.9,"height":14.1,"clip":true,"opacity":0.25}},
{"transform":[{"calculate":"datum.x","as":"xx"},{"calculate":"datum.y","as":"yy"}],"mark":{"type":"rect","width":13.9,"height":14.1,"clip":true,"opacity":0.2}},
{"transform":[{"calculate":"datum.x","as":"xx"},{"calculate":"datum.y+0.667","as":"yy"}],"mark":{"type":"rect","width":13.9,"height":14.1,"clip":true,"opacity":0.167}},
{"transform":[{"calculate":"datum.x+3.33","as":"xx"},{"calculate":"datum.y-0.667","as":"yy"}],"mark":{"type":"rect","width":13.9,"height":14.1,"clip":true,"opacity":0.143}},
{"transform":[{"calculate":"datum.x+3.33","as":"xx"},{"calculate":"datum.y","as":"yy"}],"mark":{"type":"rect","width":13.9,"height":14.1,"clip":true,"opacity":0.125}},
{"transform":[{"calculate":"datum.x+3.33","as":"xx"},{"calculate":"datum.y+0.667","as":"yy"}],"mark":{"type":"rect","width":13.9,"height":14.1,"clip":true,"opacity":0.111}}
]},
{"data":{"name":"c1"},"mark":{"type":"line","color":"#1c3c3c","strokeWidth":0.6,"interpolate":"cardinal","clip":true},"encoding":{"detail":{"field":"g"},"order":{"value":null}}},
{"data":{"name":"l1"},"mark":{"type":"rect","width":10,"height":5,"fill":"white","stroke":"#888","strokeWidth":0.3}},
{"data":{"name":"l1"},"mark":{"type":"text","fontSize":4,"color":"#444","baseline":"middle"},"encoding":{"text":{"field":"t"}}},
{"data":{"name":"d1"},"mark":{"type":"point","filled":true,"size":16,"opacity":1,"color":"#8b0f1a"}},
{"data":{"values":[{"x":175,"y":20,"n":"6"}]},"mark":{"type":"point","filled":true,"size":16,"opacity":1,"color":"#111"}},
{"data":{"values":[{"x":175,"y":20,"n":"6"}]},"mark":{"type":"text","dx":-5,"fontSize":5,"color":"#226","baseline":"middle"},"encoding":{"text":{"field":"n"}}},
{"data":{"values":[{"x":175,"y":31.37,"n":"PDI"}]},"mark":{"type":"text","fontSize":11.5,"fontWeight":"bold","color":"#111","baseline":"middle"},"encoding":{"text":{"field":"n"}}}
]},
{"width":63.7,"height":136,"data":{"values":[{"a":1}]},"mark":{"type":"text"},"encoding":{"text":{"value":""}}},
{"width":201,"height":136,"encoding":{"x":{"field":"x","type":"quantitative","scale":{"domain":[10,20]},"axis":{"title":"C: S 60% (%)","values":[10,12,14,16,18,20],"titleX":100,"titleY":27}},"y":{"field":"y","type":"quantitative","scale":{"domain":[2.5,7.5]},"axis":{"title":"D: T 80% (%)","values":[2.5,3.5,4.5,5.5,6.5,7.5],"format":".1f","titleX":-32.7,"titleY":68}}},"layer":[
{"data":{"name":"p2"},"encoding":{"x":{"field":"xx","type":"quantitative","scale":{"domain":[10,20]},"axis":{"title":"C: S 60% (%)","values":[10,12,14,16,18,20],"titleX":100,"titleY":27}},"y":{"field":"yy","type":"quantitative","scale":{"domain":[2.5,7.5]},"axis":{"title":"D: T 80% (%)","values":[2.5,3.5,4.5,5.5,6.5,7.5],"format":".1f","titleX":-32.7,"titleY":68}},"color":{"field":"z","type":"quantitative","legend":null,"scale":{"domain":[0.145,0.206,0.2675,0.329,0.39],"range":["#0000ff","#00ffff","#00ff00","#ffff00","#ff0000"],"interpolate":"rgb"}}},"layer":[
{"transform":[{"calculate":"datum.x-0.222","as":"xx"},{"calculate":"datum.y-0.1667","as":"yy"}],"mark":{"type":"rect","width":13.9,"height":14.1,"clip":true,"opacity":1}},
{"transform":[{"calculate":"datum.x-0.222","as":"xx"},{"calculate":"datum.y","as":"yy"}],"mark":{"type":"rect","width":13.9,"height":14.1,"clip":true,"opacity":0.5}},
{"transform":[{"calculate":"datum.x-0.222","as":"xx"},{"calculate":"datum.y+0.1667","as":"yy"}],"mark":{"type":"rect","width":13.9,"height":14.1,"clip":true,"opacity":0.333}},
{"transform":[{"calculate":"datum.x","as":"xx"},{"calculate":"datum.y-0.1667","as":"yy"}],"mark":{"type":"rect","width":13.9,"height":14.1,"clip":true,"opacity":0.25}},
{"transform":[{"calculate":"datum.x","as":"xx"},{"calculate":"datum.y","as":"yy"}],"mark":{"type":"rect","width":13.9,"height":14.1,"clip":true,"opacity":0.2}},
{"transform":[{"calculate":"datum.x","as":"xx"},{"calculate":"datum.y+0.1667","as":"yy"}],"mark":{"type":"rect","width":13.9,"height":14.1,"clip":true,"opacity":0.167}},
{"transform":[{"calculate":"datum.x+0.222","as":"xx"},{"calculate":"datum.y-0.1667","as":"yy"}],"mark":{"type":"rect","width":13.9,"height":14.1,"clip":true,"opacity":0.143}},
{"transform":[{"calculate":"datum.x+0.222","as":"xx"},{"calculate":"datum.y","as":"yy"}],"mark":{"type":"rect","width":13.9,"height":14.1,"clip":true,"opacity":0.125}},
{"transform":[{"calculate":"datum.x+0.222","as":"xx"},{"calculate":"datum.y+0.1667","as":"yy"}],"mark":{"type":"rect","width":13.9,"height":14.1,"clip":true,"opacity":0.111}}
]},
{"data":{"name":"c2"},"mark":{"type":"line","color":"#1c3c3c","strokeWidth":0.6,"interpolate":"cardinal","clip":true},"encoding":{"detail":{"field":"g"},"order":{"value":null}}},
{"data":{"name":"l2"},"mark":{"type":"rect","width":10,"height":5,"fill":"white","stroke":"#888","strokeWidth":0.3}},
{"data":{"name":"l2"},"mark":{"type":"text","fontSize":4,"color":"#444","baseline":"middle"},"encoding":{"text":{"field":"t"}}},
{"data":{"name":"d2"},"mark":{"type":"point","filled":true,"size":16,"opacity":1,"color":"#8b0f1a"}},
{"data":{"values":[{"x":15,"y":5,"n":"5"}]},"mark":{"type":"point","filled":true,"size":16,"opacity":1,"color":"#111"}},
{"data":{"values":[{"x":15,"y":5,"n":"5"}]},"mark":{"type":"text","dy":-5,"fontSize":5,"color":"#155","baseline":"middle"},"encoding":{"text":{"field":"n"}}},
{"data":{"values":[{"x":15,"y":7.84,"n":"PDI"}]},"mark":{"type":"text","fontSize":11.5,"fontWeight":"bold","color":"#111","baseline":"middle"},"encoding":{"text":{"field":"n"}}}
]},
{"width":70.6,"height":136,"data":{"values":[{"a":1}]},"mark":{"type":"text"},"encoding":{"text":{"value":""}}},
{"width":201,"height":136,"encoding":{"x":{"field":"x","type":"quantitative","scale":{"domain":[10,20]},"axis":{"title":"C: S 60% (%)","values":[10,12,14,16,18,20],"titleX":100,"titleY":27}},"y":{"field":"y","type":"quantitative","scale":{"domain":[10,30]},"axis":{"title":"E: S time (sec)","values":[10,15,20,25,30],"titleX":-30.3,"titleY":68}}},"layer":[
{"data":{"name":"p3"},"encoding":{"x":{"field":"xx","type":"quantitative","scale":{"domain":[10,20]},"axis":{"title":"C: S 60% (%)","values":[10,12,14,16,18,20],"titleX":100,"titleY":27}},"y":{"field":"yy","type":"quantitative","scale":{"domain":[10,30]},"axis":{"title":"E: S time (sec)","values":[10,15,20,25,30],"titleX":-30.3,"titleY":68}},"color":{"field":"z","type":"quantitative","legend":null,"scale":{"domain":[0.145,0.206,0.2675,0.329,0.39],"range":["#0000ff","#00ffff","#00ff00","#ffff00","#ff0000"],"interpolate":"rgb"}}},"layer":[
{"transform":[{"calculate":"datum.x-0.222","as":"xx"},{"calculate":"datum.y-0.667","as":"yy"}],"mark":{"type":"rect","width":13.9,"height":14.1,"clip":true,"opacity":1}},
{"transform":[{"calculate":"datum.x-0.222","as":"xx"},{"calculate":"datum.y","as":"yy"}],"mark":{"type":"rect","width":13.9,"height":14.1,"clip":true,"opacity":0.5}},
{"transform":[{"calculate":"datum.x-0.222","as":"xx"},{"calculate":"datum.y+0.667","as":"yy"}],"mark":{"type":"rect","width":13.9,"height":14.1,"clip":true,"opacity":0.333}},
{"transform":[{"calculate":"datum.x","as":"xx"},{"calculate":"datum.y-0.667","as":"yy"}],"mark":{"type":"rect","width":13.9,"height":14.1,"clip":true,"opacity":0.25}},
{"transform":[{"calculate":"datum.x","as":"xx"},{"calculate":"datum.y","as":"yy"}],"mark":{"type":"rect","width":13.9,"height":14.1,"clip":true,"opacity":0.2}},
{"transform":[{"calculate":"datum.x","as":"xx"},{"calculate":"datum.y+0.667","as":"yy"}],"mark":{"type":"rect","width":13.9,"height":14.1,"clip":true,"opacity":0.167}},
{"transform":[{"calculate":"datum.x+0.222","as":"xx"},{"calculate":"datum.y-0.667","as":"yy"}],"mark":{"type":"rect","width":13.9,"height":14.1,"clip":true,"opacity":0.143}},
{"transform":[{"calculate":"datum.x+0.222","as":"xx"},{"calculate":"datum.y","as":"yy"}],"mark":{"type":"rect","width":13.9,"height":14.1,"clip":true,"opacity":0.125}},
{"transform":[{"calculate":"datum.x+0.222","as":"xx"},{"calculate":"datum.y+0.667","as":"yy"}],"mark":{"type":"rect","width":13.9,"height":14.1,"clip":true,"opacity":0.111}}
]},
{"data":{"name":"c3"},"mark":{"type":"line","color":"#1c3c3c","strokeWidth":0.6,"interpolate":"cardinal","clip":true},"encoding":{"detail":{"field":"g"},"order":{"value":null}}},
{"data":{"name":"l3"},"mark":{"type":"rect","width":10,"height":5,"fill":"white","stroke":"#888","strokeWidth":0.3}},
{"data":{"name":"l3"},"mark":{"type":"text","fontSize":4,"color":"#444","baseline":"middle"},"encoding":{"text":{"field":"t"}}},
{"data":{"name":"d3"},"mark":{"type":"point","filled":true,"size":16,"opacity":1,"color":"#8b0f1a"}},
{"data":{"values":[{"x":15,"y":20,"n":"5"}]},"mark":{"type":"point","filled":true,"size":16,"opacity":1,"color":"#111"}},
{"data":{"values":[{"x":15,"y":20,"n":"5"}]},"mark":{"type":"text","dx":-5,"fontSize":5,"color":"#226","baseline":"middle"},"encoding":{"text":{"field":"n"}}},
{"data":{"values":[{"x":15,"y":31.37,"n":"PDI"}]},"mark":{"type":"text","fontSize":11.5,"fontWeight":"bold","color":"#111","baseline":"middle"},"encoding":{"text":{"field":"n"}}}
]},
{"width":11.7,"height":136,"data":{"values":[{"a":1}]},"mark":{"type":"text"},"encoding":{"text":{"value":""}}}
],"spacing":0,"bounds":"flush"}
],"spacing":0}
